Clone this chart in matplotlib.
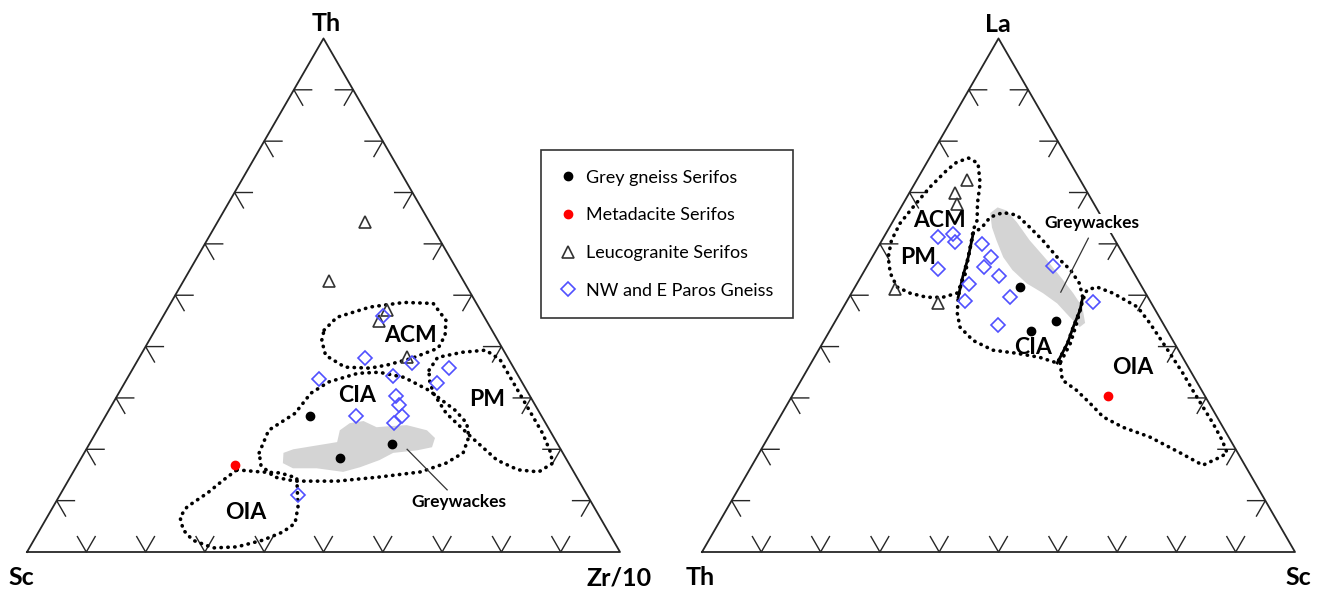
import numpy as np
import matplotlib.pyplot as plt
from matplotlib.lines import Line2D

plt.rcParams['font.family'] = ['Lato', 'DejaVu Sans']

H = np.sqrt(3) / 2

# Th - Sc - Zr/10 diagram, every point given as (Th, Sc, Zr/10) in %
left_grey_gneiss = [(26.5, 39.0, 34.5), (18.3, 38.0, 43.7), (21.0, 27.9, 51.1)]
left_metadacite = [(16.9, 56.4, 26.7)]
left_leucogranite = [(64.2, 10.9, 24.9), (52.7, 22.8, 24.5), (47.1, 15.7, 37.2),
                     (44.9, 18.2, 36.9), (37.9, 17.0, 45.1)]
left_paros = [(45.9, 17.1, 37.0), (37.7, 24.2, 38.1), (36.8, 16.7, 46.5),
              (33.7, 33.9, 32.4), (34.2, 21.2, 44.6), (35.8, 10.9, 53.3),
              (32.9, 14.4, 52.7), (30.4, 22.6, 47.0), (28.6, 23.0, 48.4),
              (26.5, 23.5, 50.0), (25.1, 25.6, 49.3), (26.5, 31.2, 42.3),
              (11.1, 48.7, 40.2)]

left_acm = [(43.2, 28.3, 28.5), (45.7, 24.9, 29.4), (47.7, 18.3, 34.0), (48.6, 12.1, 39.3),
            (48.4, 7.3, 44.3), (45.1, 6.8, 48.1), (42.2, 8.4, 49.4), (39.7, 10.8, 49.5),
            (37.7, 16.3, 46.0), (36.4, 21.1, 42.5), (35.8, 24.3, 39.9), (36.0, 28.4, 35.6),
            (38.3, 30.5, 31.2), (41.2, 29.7, 29.1)]
left_cia = [(19.3, 51.2, 29.5), (23.7, 47.4, 28.9), (27.0, 41.3, 31.7), (30.9, 36.7, 32.4),
            (33.1, 32.6, 34.3), (34.8, 26.8, 38.4), (35.0, 23.1, 41.9), (34.0, 19.4, 46.6),
            (31.5, 16.5, 52.0), (27.6, 14.0, 58.4), (25.1, 13.3, 61.6), (22.4, 14.3, 63.3),
            (19.3, 16.8, 63.9), (17.3, 20.7, 62.0), (15.6, 25.8, 58.6), (14.6, 33.3, 52.1),
            (13.8, 40.8, 45.4), (13.8, 47.9, 38.3), (14.6, 51.0, 34.4), (16.9, 52.1, 31.0)]
left_pm = [(35.4, 14.5, 50.1), (37.9, 11.8, 50.3), (38.9, 7.1, 54.0), (39.3, 3.0, 57.7),
           (37.5, 1.5, 61.0), (33.0, 1.5, 65.5), (28.0, 1.5, 70.5), (23.0, 1.5, 75.5),
           (19.5, 2.0, 78.5), (17.3, 2.7, 80.0), (15.6, 5.9, 78.5), (16.0, 9.2, 74.8),
           (17.9, 11.8, 70.3), (22.4, 13.9, 63.7), (27.0, 15.8, 57.2), (30.9, 16.0, 53.1),
           (33.5, 15.4, 51.1)]
left_oia = [(16.0, 56.6, 27.4), (15.6, 52.9, 31.5), (15.4, 49.6, 35.0), (14.4, 47.3, 38.3),
            (8.8, 49.9, 41.3), (5.6, 52.0, 42.4), (3.9, 54.9, 41.2), (2.3, 59.1, 38.6),
            (1.0, 64.1, 34.9), (0.8, 68.2, 31.0), (2.3, 70.9, 26.8), (4.3, 71.5, 24.2),
            (6.8, 70.8, 22.4), (8.8, 68.6, 22.6), (11.5, 63.8, 24.7), (14.0, 59.9, 26.1)]
left_greywacke = [(19.3, 47.1, 33.6), (20.0, 45.1, 34.9), (21.4, 37.0, 41.6), (23.7, 35.4, 40.9),
                  (25.1, 33.0, 41.9), (25.5, 30.5, 44.0), (24.3, 28.9, 46.8), (24.5, 26.6, 48.9),
                  (24.7, 23.6, 51.7), (23.7, 20.7, 55.6), (22.2, 20.1, 57.7), (20.4, 21.5, 58.1),
                  (19.8, 24.3, 55.9), (19.3, 28.6, 52.1), (17.9, 31.6, 50.5), (16.5, 35.6, 47.9),
                  (15.6, 38.9, 45.5), (16.3, 43.0, 40.7), (16.3, 47.0, 36.7), (17.3, 48.2, 34.5)]
left_greywacke_pointer = [(20.0, 25.9, 54.1), (12.1, 23.1, 64.8)]

# La - Th - Sc diagram, every point given as (La, Th, Sc) in %
right_grey_gneiss = [(51.6, 20.6, 27.8), (44.9, 17.9, 37.2), (43.0, 23.0, 34.0)]
right_metadacite = [(30.4, 16.3, 53.3)]
right_leucogranite = [(72.4, 19.1, 8.5), (70.0, 22.3, 7.7), (67.7, 23.2, 9.1),
                      (51.2, 41.9, 6.9), (48.4, 36.0, 15.6)]
right_paros = [(61.3, 29.5, 9.2), (61.9, 26.8, 11.3), (60.3, 27.2, 12.5), (55.1, 32.6, 12.3),
               (59.9, 22.9, 17.2), (57.4, 22.6, 20.0), (55.4, 24.7, 19.9), (53.7, 23.0, 23.3),
               (52.1, 29.0, 18.9), (48.8, 31.2, 20.0), (49.6, 23.3, 27.1), (44.2, 28.0, 27.8),
               (55.6, 13.0, 31.4), (48.6, 9.8, 41.6)]

right_acm_pm = [(76.7, 16.7, 6.6), (75.7, 15.6, 8.7), (71.8, 17.2, 11.0), (67.9, 19.6, 12.5),
                (64.6, 21.3, 14.1), (62.6, 23.0, 14.4), (61.3, 23.8, 14.9), (57.4, 26.4, 16.2),
                (54.3, 28.4, 17.3), (52.3, 30.1, 17.6), (50.4, 31.8, 17.8), (49.6, 34.6, 15.8),
                (49.6, 37.3, 13.1), (50.4, 39.7, 9.9), (51.6, 41.3, 7.1), (54.3, 41.1, 4.6),
                (57.4, 39.9, 2.7), (60.7, 37.7, 1.6), (64.0, 34.6, 1.4), (67.1, 30.9, 2.0),
                (71.0, 26.1, 2.9), (74.3, 21.6, 4.1), (75.9, 19.1, 5.0)]
right_cia = [(62.1, 23.2, 14.7), (57.4, 26.4, 16.2), (53.5, 29.3, 17.2), (49.6, 32.0, 18.4),
             (46.5, 33.7, 19.8), (43.8, 34.6, 21.6), (41.2, 33.7, 25.1), (39.3, 31.3, 29.4),
             (38.7, 27.6, 33.7), (37.9, 24.1, 38.0), (36.8, 21.7, 41.5), (40.7, 18.0, 41.3),
             (43.8, 15.5, 40.7), (47.1, 12.7, 40.2), (49.6, 11.0, 39.4), (52.3, 10.2, 37.5),
             (54.9, 10.4, 34.7), (57.4, 11.4, 31.2), (60.7, 12.2, 27.1), (63.2, 13.1, 23.7),
             (65.6, 14.1, 20.3), (66.1, 16.2, 17.7), (65.2, 18.8, 16.0), (63.2, 21.2, 15.6)]
right_oia = [(36.8, 21.2, 42.0), (33.5, 22.5, 44.0), (31.5, 21.1, 47.4), (29.0, 20.1, 50.9),
             (26.3, 19.2, 54.5), (24.3, 16.9, 58.8), (22.4, 13.3, 64.3), (19.3, 9.7, 71.0),
             (16.9, 7.1, 76.0), (18.5, 3.3, 78.2), (19.3, 1.8, 78.9), (21.8, 1.4, 76.8),
             (25.1, 1.3, 73.6), (28.2, 1.4, 70.4), (31.5, 1.5, 67.0), (34.8, 1.5, 63.7),
             (37.9, 1.7, 60.4), (40.7, 1.9, 57.4), (44.6, 2.2, 53.2), (47.7, 2.7, 49.6),
             (50.4, 5.5, 44.1), (51.6, 7.6, 40.8), (51.0, 9.6, 39.4), (49.0, 11.3, 39.7),
             (44.6, 14.5, 40.9), (40.7, 17.5, 41.8)]
right_greywacke = [(66.0, 18.4, 15.6), (67.1, 16.6, 16.3), (66.5, 15.4, 18.1), (64.2, 14.8, 21.0),
                   (60.7, 14.4, 24.9), (56.8, 13.4, 29.8), (53.3, 12.7, 34.0), (50.4, 12.2, 37.4),
                   (47.7, 12.0, 40.3), (44.6, 13.1, 42.3), (43.8, 14.4, 41.8), (45.7, 15.1, 39.2),
                   (48.4, 15.9, 35.7), (50.4, 17.3, 32.3), (52.3, 19.1, 28.6), (54.9, 20.2, 24.9),
                   (57.4, 20.5, 22.1), (60.7, 20.0, 19.3), (63.2, 19.5, 17.3)]
right_greywacke_pointer = [(61.1, 4.3, 34.6), (50.6, 14.2, 35.2)]

legend_labels = ['Grey gneiss Serifos', 'Metadacite Serifos',
                 'Leucogranite Serifos', 'NW and E Paros Gneiss']

EDGE = '#262626'
BLUE = '#5050ff'
DOTS = dict(color='black', lw=2.6, linestyle=(0, (0.1, 1.8)),
            dash_capstyle='round', zorder=3)


def to_xy(pts):
    # (top, left, right) -> cartesian in a unit-side triangle
    a = np.asarray(pts, dtype=float)
    s = a.sum(axis=1)
    top, right = a[:, 0] / s, a[:, 2] / s
    return right + top / 2, top * H


def closed(pts):
    return list(pts) + [pts[0]]


def frame(ax):
    ax.plot([0, 1, 0.5, 0], [0, 0, H, 0], color=EDGE, lw=1.3, zorder=2)
    L = 0.03
    for f in np.arange(1, 10) / 10:
        ax.plot([f - L / 2, f, f + L / 2], [L * H, 0, L * H], color=EDGE, lw=1.0, zorder=2)
        px, py = f / 2, f * H
        ax.plot([px + L, px, px + L / 2], [py, py, py - L * H], color=EDGE, lw=1.0, zorder=2)
        px = 1 - f / 2
        ax.plot([px - L, px, px - L / 2], [py, py, py - L * H], color=EDGE, lw=1.0, zorder=2)


def samples(ax, gneiss, dacite, leuco, paros):
    ax.plot(*to_xy(gneiss), ls='none', marker='o', ms=6, color='black', zorder=5)
    ax.plot(*to_xy(dacite), ls='none', marker='o', ms=6, color='#ff0000', zorder=5)
    ax.plot(*to_xy(leuco), ls='none', marker='^', ms=9, mfc='none', mec='#333333',
            mew=1.2, zorder=5)
    ax.plot(*to_xy(paros), ls='none', marker='D', ms=7, mfc='none', mec=BLUE,
            mew=1.2, zorder=5)


def label(ax, txt, comp, size=16.5, **kw):
    x, y = to_xy([comp])
    ax.text(x[0], y[0], txt, ha='center', va='center', fontsize=size,
            fontweight='bold', zorder=6, **kw)


fig = plt.figure(figsize=(13.2, 5.9), dpi=100)
ax1 = fig.add_axes([0, 0, 0.5, 1])
ax2 = fig.add_axes([0.5, 0, 0.5, 1])
ax1.set_xlim(-27 / 593, 633 / 593)
ax2.set_xlim(-42 / 593, 618 / 593)
for ax in (ax1, ax2):
    ax.set_ylim(-38 / 593, 552 / 593)
    ax.axis('off')
    frame(ax)

# Th - Sc - Zr/10
ax1.fill(*to_xy(left_greywacke), color='#d4d4d4', lw=0, zorder=1)
for field in (left_acm, left_cia, left_pm, left_oia):
    ax1.plot(*to_xy(closed(field)), **DOTS)
ax1.plot(*to_xy(left_greywacke_pointer), color='#333333', lw=0.9, zorder=4)
samples(ax1, left_grey_gneiss, left_metadacite, left_leucogranite, left_paros)
label(ax1, 'ACM', (42.2, 14.3, 43.5))
label(ax1, 'CIA', (30.4, 29.2, 40.4))
label(ax1, 'PM', (29.6, 7.6, 62.8))
label(ax1, 'OIA', (7.6, 59.3, 33.1))
label(ax1, 'Greywackes', (9.7, 22.4, 67.9), size=12.5)
ax1.text(0.505, 0.879, 'Th', ha='center', va='baseline', fontsize=18, fontweight='bold')
ax1.text(-0.009, -0.0557, 'Sc', ha='center', va='baseline', fontsize=18, fontweight='bold')
ax1.text(0.998, -0.0557, 'Zr/10', ha='center', va='baseline', fontsize=18, fontweight='bold')

# La - Th - Sc
ax2.fill(*to_xy(right_greywacke), color='#d4d4d4', lw=0, zorder=1)
for field in (right_acm_pm, right_cia, right_oia):
    ax2.plot(*to_xy(closed(field)), **DOTS)
# shared field boundaries are drawn as continuous lines
ax2.plot(*to_xy(right_cia[0:4]), color='black', lw=2.0, zorder=3)
ax2.plot(*to_xy(right_cia[10:15]), color='black', lw=2.0, zorder=3)
ax2.plot(*to_xy(right_greywacke_pointer), color='#333333', lw=0.9, zorder=4)
samples(ax2, right_grey_gneiss, right_metadacite, right_leucogranite, right_paros)
label(ax2, 'ACM', (64.6, 27.6, 7.8))
label(ax2, 'PM', (57.4, 34.9, 7.7))
label(ax2, 'CIA', (39.9, 24.2, 35.9))
label(ax2, 'OIA', (36.0, 9.3, 54.7))
label(ax2, 'Greywackes', (64.0, 2.2, 33.8), size=12.5,
      bbox=dict(facecolor='white', edgecolor='none', pad=1))
ax2.text(0.4992, 0.8764, 'La', ha='center', va='baseline', fontsize=18, fontweight='bold')
ax2.text(-0.0034, -0.0557, 'Th', ha='center', va='baseline', fontsize=18, fontweight='bold')
ax2.text(1.005, -0.0557, 'Sc', ha='center', va='baseline', fontsize=18, fontweight='bold')

handles = [
    Line2D([], [], ls='none', marker='o', ms=6, color='black'),
    Line2D([], [], ls='none', marker='o', ms=6, color='#ff0000'),
    Line2D([], [], ls='none', marker='^', ms=9, mfc='none', mec='#333333', mew=1.2),
    Line2D([], [], ls='none', marker='D', ms=7, mfc='none', mec=BLUE, mew=1.2),
]
leg = fig.legend(handles, legend_labels, loc='upper left',
                 bbox_to_anchor=(541 / 1320, 1 - 150 / 590), borderaxespad=0,
                 fontsize=13, frameon=True, fancybox=False, framealpha=1,
                 borderpad=1.08, labelspacing=1.2, handlelength=0.82,
                 handletextpad=0.59)
leg.get_frame().set_edgecolor('#333333')
leg.get_frame().set_linewidth(1.2)

fig.savefig('out.png', dpi=100)
